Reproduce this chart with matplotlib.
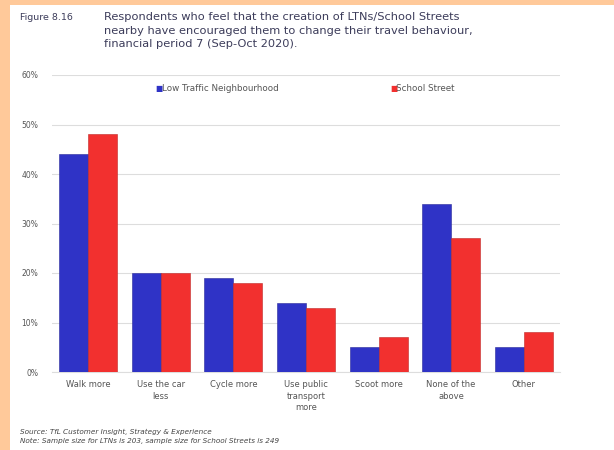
import matplotlib
matplotlib.use("Agg")
import numpy as np
from matplotlib import pyplot as plt
from matplotlib.patches import Rectangle
from matplotlib.ticker import PercentFormatter

categories = ["Walk more", "Use the car\nless", "Cycle more", "Use public\ntransport\nmore",
              "Scoot more", "None of the\nabove", "Other"]
ltn_values = [44, 20, 19, 14, 5, 34, 5]
school_values = [48, 20, 18, 13, 7, 27, 8]
series_names = ["Low Traffic Neighbourhood", "School Street"]
y_ticks = [0, 10, 20, 30, 40, 50, 60]

BLUE = "#2f33c6"
RED = "#f2302f"
ORANGE = "#ffc99a"
TEXT = "#555555"

fig = plt.figure(figsize=(6.14, 4.5), dpi=100)
fig.patch.set_facecolor("white")

# orange frame strips on the left and top
fig.add_artist(Rectangle((0, 0), 10 / 614, 1, transform=fig.transFigure,
                         facecolor=ORANGE, edgecolor="none", zorder=0))
fig.add_artist(Rectangle((0, 1 - 5 / 450), 1, 5 / 450, transform=fig.transFigure,
                         facecolor=ORANGE, edgecolor="none", zorder=0))

ax = fig.add_axes([52 / 614, 1 - 372 / 450, (560 - 52) / 614, (372 - 75) / 450])

x = np.arange(len(categories))
w = 0.4
ax.bar(x - w / 2, ltn_values, w, color=BLUE, edgecolor="#2a2a9a", linewidth=0.4,
       label=series_names[0], zorder=3)
ax.bar(x + w / 2, school_values, w, color=RED, edgecolor="#c02828", linewidth=0.4,
       label=series_names[1], zorder=3)

ax.set_xlim(-0.5, len(categories) - 0.5)
ax.set_ylim(0, 60)
ax.set_yticks(y_ticks)
ax.yaxis.set_major_formatter(PercentFormatter(decimals=0))
ax.set_xticks(x)
ax.set_xticklabels(categories, fontsize=6, color=TEXT, linespacing=1.35)
ax.tick_params(axis="y", labelsize=5.5, labelcolor=TEXT, length=0, pad=10)
ax.tick_params(axis="x", length=0, pad=6)
ax.grid(axis="y", color="#dddddd", linewidth=0.8, zorder=0)
for s in ["top", "right", "left"]:
    ax.spines[s].set_visible(False)
ax.spines["bottom"].set_color("#dddddd")

# legend as two markers + labels across the top of the plot
ax.text(0.203, 0.955, "\u25a0", transform=ax.transAxes, fontsize=5.5, color=BLUE, va="center")
ax.text(0.216, 0.955, series_names[0], transform=ax.transAxes, fontsize=6.3, color=TEXT, va="center")
ax.text(0.665, 0.955, "\u25a0", transform=ax.transAxes, fontsize=5.5, color=RED, va="center")
ax.text(0.678, 0.955, series_names[1], transform=ax.transAxes, fontsize=6.3, color=TEXT, va="center")

fig.text(20 / 614, 1 - 18 / 450, "Figure 8.16", fontsize=6.8, color="#3c3c5a", va="center")
fig.text(104 / 614, 1 - 12 / 450,
         "Respondents who feel that the creation of LTNs/School Streets\n"
         "nearby have encouraged them to change their travel behaviour,\n"
         "financial period 7 (Sep-Oct 2020).",
         fontsize=8.2, color="#3c3c5a", va="top", linespacing=1.45)

fig.text(20 / 614, 1 - 432 / 450, "Source: TfL Customer Insight, Strategy & Experience",
         fontsize=5.2, style="italic", color="#444444", va="center")
fig.text(20 / 614, 1 - 441 / 450,
         "Note: Sample size for LTNs is 203, sample size for School Streets is 249",
         fontsize=5.2, style="italic", color="#444444", va="center")

fig.savefig("out.png", dpi=100)
